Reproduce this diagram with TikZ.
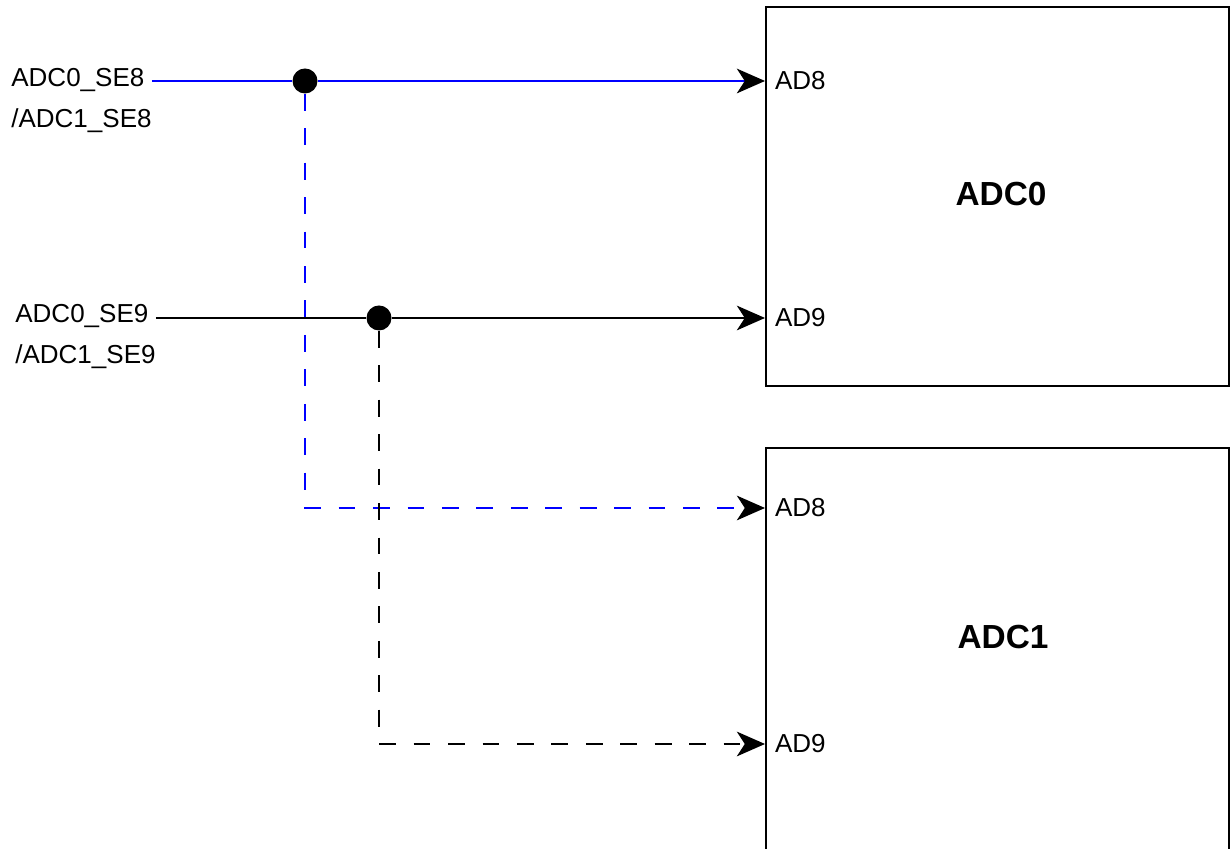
\documentclass[tikz,border=0pt]{standalone}
\usepackage{fontspec}
\setmainfont{Liberation Sans}
\usetikzlibrary{arrows.meta}

\begin{document}
\begin{tikzpicture}[
  wire/.style={line width=1.3pt,-{Stealth[length=16pt,width=14pt,inset=4.5pt,black,fill=black]}},
  dashwire/.style={wire,dash pattern=on 9.6pt off 10pt},
  junction/.style={circle,fill=black,inner sep=0pt,minimum size=0.5cm},
  sig/.style={align=left,inner sep=0pt,anchor=west,font=\fontsize{14.8}{23.5}\selectfont},
  port/.style={anchor=west,inner xsep=5.5pt,inner ysep=0pt,font=\fontsize{14.8}{18}\selectfont},
  title/.style={font=\fontsize{19}{23}\selectfont\bfseries}
]
\useasboundingbox (0,0) rectangle (24.6,16.98);
\clip (0,0) rectangle (24.6,16.98);

% the two converters
\draw[line width=1.6pt] (15.32,9.26) rectangle (24.58,16.84);
\draw[line width=1.6pt] (15.32,-1) rectangle (24.58,8.02);
\node[title] (adc0) at (20.02,13.1) {ADC0};
\node[title] (adc1) at (20.06,4.24) {ADC1};

\node[port] (p0a) at (15.3,15.36) {AD8};
\node[port] (p0b) at (15.3,10.62) {AD9};
\node[port] (p1a) at (15.3,6.82) {AD8};
\node[port] (p1b) at (15.3,2.10) {AD9};

% input pins
\node[sig] (se8) at (0.22,14.97) {ADC0\_SE8\\/ADC1\_SE8};
\node[sig] (se9) at (0.3,10.25) {ADC0\_SE9\\/ADC1\_SE9};

\node[junction] (j8) at (6.1,15.36) {};
\node[junction] (j9) at (7.58,10.62) {};

\draw[blue,line width=1.3pt] (se8.east |- j8) -- (j8);
\draw[wire,blue] (j8) -- (p0a.west);
\draw[dashwire,blue] (j8) |- (p1a.west);

\draw[line width=1.3pt] (se9.east |- j9) -- (j9);
\draw[wire] (j9) -- (p0b.west);
\draw[dashwire] (j9) |- (p1b.west);
\end{tikzpicture}
\end{document}
